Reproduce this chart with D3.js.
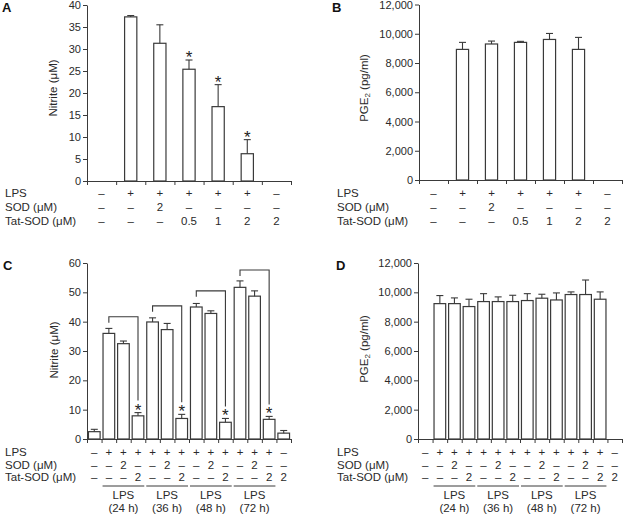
<!DOCTYPE html>
<html><head><meta charset="utf-8">
<script src="https://cdn.jsdelivr.net/npm/d3@7"></script>
<style>
body{margin:0;background:#fff}
svg{display:block;font-family:"Liberation Sans",Arial,Helvetica,sans-serif}
</style>
</head><body>
<svg id="chart" width="624" height="514"></svg>
<script>
// ---------- DATA ----------
const rowNames = ["LPS", "SOD (\u03bcM)", "Tat-SOD (\u03bcM)"];
const lpsRowAB = ["\u2013","+","+","+","+","+","\u2013"];
const sodRowAB = ["\u2013","\u2013","2","\u2013","\u2013","\u2013","\u2013"];
const tatRowAB = ["\u2013","\u2013","\u2013","0.5","1","2","2"];
const nitriteA = [0, 37.3, 31.3, 25.4, 16.9, 6.2, 0];
const nitriteErrA = [0, 0.3, 4.2, 2.1, 5.0, 3.2, 0];
const starA = [0,0,0,1,1,1,0];
const yTicksA = [0,5,10,15,20,25,30,35,40];
const pgeB = [0, 8930, 9300, 9410, 9610, 8930, 0];
const pgeErrB = [0, 480, 200, 70, 410, 820, 0];
const yTicksB = [0,2000,4000,6000,8000,10000,12000];

const lpsRowCD = ["\u2013","+","+","+","+","+","+","+","+","+","+","+","+","\u2013"];
const sodRowCD = ["\u2013","\u2013","2","\u2013","\u2013","2","\u2013","\u2013","2","\u2013","\u2013","2","\u2013","\u2013"];
const tatRowCD = ["\u2013","\u2013","\u2013","2","\u2013","\u2013","2","\u2013","\u2013","2","\u2013","\u2013","2","2"];
const lpsGroups = ["(24 h)","(36 h)","(48 h)","(72 h)"];
const nitriteC = [2.5, 36.0, 32.5, 7.9, 39.9, 37.3, 7.0, 45.0, 42.8, 5.7, 51.7, 48.7, 6.7, 2.0];
const nitriteErrC = [0.8, 1.7, 0.9, 1.1, 1.4, 2.1, 1.4, 1.2, 0.9, 1.3, 2.2, 1.8, 1.0, 0.9];
const starC = [0,0,0,1,0,0,1,0,0,1,0,0,1,0];
const bracketC = [41.7, 45.4, 50.5, 57.6];
const yTicksC = [0,10,20,30,40,50,60];
const pgeD = [0, 9230, 9230, 9030, 9370, 9370, 9370, 9440, 9600, 9480, 9850, 9850, 9530, 0];
const pgeErrD = [0, 550, 390, 500, 540, 320, 430, 470, 270, 480, 180, 990, 500, 0];
const yTicksD = [0,2000,4000,6000,8000,10000,12000];

// ---------- DRAW ----------
const svg = d3.select("#chart");
const TXT = "#2a2a2a", LINE = "#3a3a3a";
const fmtComma = d3.format(",");

function panel(o){
  const g = svg.append("g");
  const n = o.values.length;
  const xb = d3.scaleBand().domain(d3.range(n)).range([o.x0, o.x1]).padding(0);
  const xl = d3.scaleLinear().domain([0, n]).range([o.x0, o.x1]);
  const y = d3.scaleLinear().domain([0, o.ymax]).range([o.yBot, o.yTop]);
  const step = xb.step(), bw = step * o.barFrac;
  const cx = i => xb(i) + step/2;

  o.values.forEach((v,i) => {
    if (v <= 0) return;
    g.append("rect").attr("x", cx(i) - bw/2).attr("y", y(v))
      .attr("width", bw).attr("height", y(0) - y(v))
      .attr("fill", "#fff").attr("stroke", LINE).attr("stroke-width", 1.2);
    const e = o.errs[i];
    if (e > 0) {
      g.append("line").attr("x1", cx(i)).attr("x2", cx(i))
        .attr("y1", y(v)).attr("y2", y(v+e)).attr("stroke", LINE).attr("stroke-width", 1.1);
      g.append("line").attr("x1", cx(i)-3.5).attr("x2", cx(i)+3.5)
        .attr("y1", y(v+e)).attr("y2", y(v+e)).attr("stroke", LINE).attr("stroke-width", 1.1);
    }
    if (o.stars && o.stars[i]) {
      g.append("text").attr("x", cx(i)).attr("y", y(v+e) + 3)
        .attr("text-anchor","middle").attr("font-size", 17).attr("fill", "#222")
        .text("*");
    }
  });

  // brackets
  if (o.brackets) {
    o.brackets.forEach((b, k) => {
      const li = 1 + 3*k, ri = 3 + 3*k;
      const yt = y(b);
      const rBottom = y(o.values[ri] + o.errs[ri]) - 12;
      g.append("path")
        .attr("d", `M${cx(li)},${yt+6}V${yt}H${cx(ri)}V${rBottom}`)
        .attr("fill","none").attr("stroke", LINE).attr("stroke-width", 1.1);
    });
  }

  // y axis
  const ya = g.append("g").attr("transform", `translate(${o.x0},0)`)
    .call(d3.axisLeft(y).tickValues(o.ticks).tickFormat(o.fmt).tickSize(4).tickSizeOuter(0).tickPadding(2));
  ya.select(".domain").attr("stroke", LINE);
  ya.selectAll(".tick line").attr("stroke", LINE);
  ya.selectAll("text").attr("font-size", 11).attr("fill", TXT).attr("font-family", null);

  // x axis
  const xa = g.append("g").attr("transform", `translate(0,${o.yBot})`)
    .call(d3.axisBottom(xl).tickValues(d3.range(n+1)).tickFormat("").tickSize(4).tickSizeOuter(0));
  xa.select(".domain").attr("stroke", LINE);
  xa.selectAll(".tick line").attr("stroke", LINE);

  // row labels and values
  const rows = [o.lps, o.sod, o.tat];
  rows.forEach((r, j) => {
    g.append("text").attr("x", o.labelX).attr("y", o.rowY[j]).attr("dominant-baseline","central")
      .attr("font-size", 11.5).attr("fill", TXT).text(rowNames[j]);
    r.forEach((t, i) => {
      g.append("text").attr("x", cx(i)).attr("y", o.rowY[j]).attr("dominant-baseline","central")
        .attr("text-anchor","middle").attr("font-size", 11.5).attr("fill", TXT).text(t);
    });
  });

  // group underlines
  if (o.groups) {
    o.groups.forEach((lab, k) => {
      const a = xb(1 + 3*k) + 1, b = xb(3 + 3*k) + step - 1;
      g.append("line").attr("x1", a).attr("x2", b).attr("y1", o.groupLineY).attr("y2", o.groupLineY)
        .attr("stroke", LINE).attr("stroke-width", 1);
      g.append("text").attr("x", (a+b)/2).attr("y", o.groupLineY + 9).attr("dominant-baseline","central")
        .attr("text-anchor","middle").attr("font-size", 11.5).attr("fill", TXT).text("LPS");
      g.append("text").attr("x", (a+b)/2).attr("y", o.groupLineY + 22).attr("dominant-baseline","central")
        .attr("text-anchor","middle").attr("font-size", 11.5).attr("fill", TXT).text(lab);
    });
  }

  // y title
  const tt = g.append("text").attr("transform", `translate(${o.titleX},${o.titleY}) rotate(-90)`)
    .attr("text-anchor","middle").attr("dominant-baseline","central")
    .attr("font-size", 11.5).attr("fill", TXT);
  if (o.pge) {
    tt.append("tspan").text("PGE");
    tt.append("tspan").attr("font-size", 8).attr("dy", 3).text("2");
    tt.append("tspan").attr("dy", -3).text(" (pg/ml)");
  } else {
    tt.text("Nitrite (\u03bcM)");
  }

  // panel letter
  g.append("text").attr("x", o.letterX).attr("y", o.letterY).attr("font-size", 13)
    .attr("font-weight", "bold").attr("fill", "#111").text(o.letter);
}

panel({x0:87, x1:291, yTop:5, yBot:181, ymax:40, ticks:yTicksA, fmt:d3.format("d"),
  values:nitriteA, errs:nitriteErrA, stars:starA, barFrac:0.42,
  lps:lpsRowAB, sod:sodRowAB, tat:tatRowAB, rowY:[193,207,221], labelX:5,
  titleX:53, titleY:88, letter:"A", letterX:2, letterY:12});

panel({x0:419, x1:622, yTop:4.5, yBot:180, ymax:12000, ticks:yTicksB, fmt:fmtComma,
  values:pgeB, errs:pgeErrB, barFrac:0.42, pge:true,
  lps:lpsRowAB, sod:sodRowAB, tat:tatRowAB, rowY:[193,207,221], labelX:337,
  titleX:364, titleY:88, letter:"B", letterX:332, letterY:12});

panel({x0:87, x1:291, yTop:263, yBot:439, ymax:60, ticks:yTicksC, fmt:d3.format("d"),
  values:nitriteC, errs:nitriteErrC, stars:starC, barFrac:0.8, brackets:bracketC,
  lps:lpsRowCD, sod:sodRowCD, tat:tatRowCD, rowY:[452,465,477], labelX:5,
  groups:lpsGroups, groupLineY:486,
  titleX:54, titleY:350, letter:"C", letterX:3, letterY:270});

panel({x0:418, x1:622, yTop:263, yBot:439, ymax:12000, ticks:yTicksD, fmt:fmtComma,
  values:pgeD, errs:pgeErrD, barFrac:0.8, pge:true,
  lps:lpsRowCD, sod:sodRowCD, tat:tatRowCD, rowY:[452,465,477], labelX:337,
  groups:lpsGroups, groupLineY:486,
  titleX:364, titleY:349, letter:"D", letterX:336, letterY:270});
</script>
</body></html>
